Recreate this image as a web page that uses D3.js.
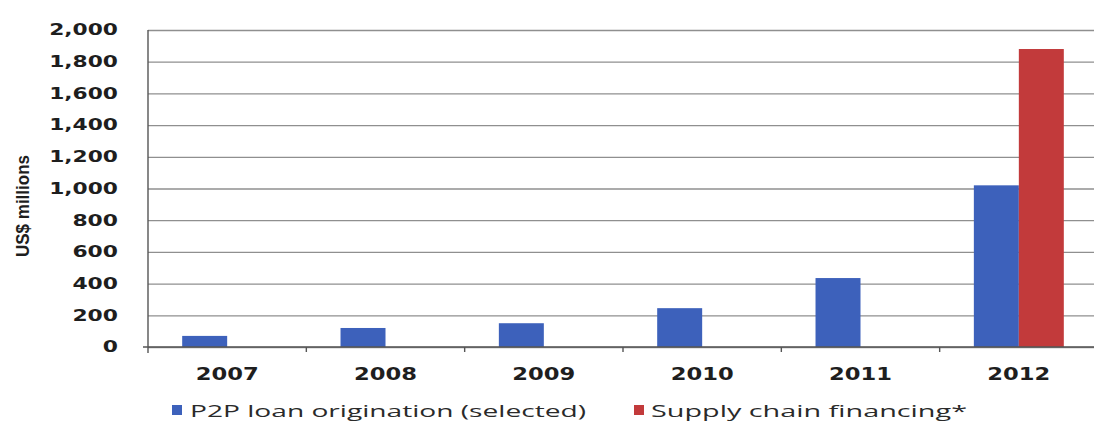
<!DOCTYPE html>
<html>
<head>
<meta charset="utf-8">
<script src="https://cdn.jsdelivr.net/npm/d3@7"></script>
<style>
  html, body { margin: 0; padding: 0; background: #fff; }
  svg { display: block; }
</style>
</head>
<body>
<svg id="chart" width="1094" height="437"></svg>
<script>
// Annual volumes, US$ millions
const years = ["2007", "2008", "2009", "2010", "2011", "2012"];
const p2pLoans = [70, 120, 150, 245, 435, 1020];
const supplyChain = [null, null, null, null, null, 1880];
const seriesNames = ["P2P loan origination (selected)", "Supply chain financing*"];
const seriesColors = ["#3d61bb", "#c23a3b"];
const yTicks = [0, 200, 400, 600, 800, 1000, 1200, 1400, 1600, 1800, 2000];

const svg = d3.select("#chart");
const plot = { left: 148, right: 1098, top: 30, bottom: 347 };

const x = d3.scaleBand().domain(years).range([plot.left, plot.right]).padding(0);
const x1 = d3.scaleBand().domain(seriesNames).range([0, x.bandwidth()]).paddingInner(0).paddingOuter(0.76);
const y = d3.scaleLinear().domain([0, 2000]).range([plot.bottom, plot.top]);

// horizontal gridlines
const grid = svg.append("g").attr("transform", `translate(${plot.left},0)`)
  .call(d3.axisLeft(y).tickValues(yTicks).tickSize(-(plot.right - plot.left)).tickFormat(""));
grid.select(".domain").remove();
grid.selectAll("line").attr("stroke", "#8f8f8f").attr("stroke-width", 1.3);

// bars
const rows = years.map((yr, i) => ({ year: yr, values: [p2pLoans[i], supplyChain[i]] }));
const groups = svg.append("g").selectAll("g").data(rows).join("g")
  .attr("transform", d => `translate(${x(d.year)},0)`);
groups.selectAll("rect")
  .data(d => d.values.map((v, k) => ({ name: seriesNames[k], value: v, k })).filter(e => e.value != null))
  .join("rect")
  .attr("x", e => x1(e.name))
  .attr("width", x1.bandwidth())
  .attr("y", e => y(e.value))
  .attr("height", e => y(0) - y(e.value))
  .attr("fill", e => seriesColors[e.k]);

// y axis with labels
const yAxis = svg.append("g").attr("transform", `translate(${plot.left},0)`)
  .call(d3.axisLeft(y).tickValues(yTicks).tickSize(0).tickPadding(30).tickFormat(d3.format(",")));
yAxis.select(".domain").remove();
yAxis.selectAll("text")
  .attr("font-family", "'DejaVu Sans', Verdana, sans-serif")
  .attr("font-weight", "bold")
  .attr("font-size", 15)
  .attr("fill", "#1e1e1e")
  .each(function () {
    const s = d3.select(this).text();
    const digits = s.replace(/[^0-9]/g, "").length;
    const commas = s.length - digits;
    d3.select(this).attr("textLength", digits * 15.2 + commas * 8).attr("lengthAdjust", "spacingAndGlyphs");
  });

// axis lines
svg.append("line")
  .attr("x1", plot.left).attr("x2", plot.left)
  .attr("y1", y(2000)).attr("y2", y(0) + 6)
  .attr("stroke", "#555").attr("stroke-width", 1.4);
svg.append("line")
  .attr("x1", plot.left - 5).attr("x2", plot.right)
  .attr("y1", y(0)).attr("y2", y(0))
  .attr("stroke", "#555").attr("stroke-width", 1.4);

// category boundary ticks
const edges = years.map(yr => x(yr)).slice(1);
svg.append("g").selectAll("line").data(edges).join("line")
  .attr("x1", d => d).attr("x2", d => d)
  .attr("y1", y(0)).attr("y2", y(0) + 5)
  .attr("stroke", "#555").attr("stroke-width", 1.4);

// x axis labels
const xAxis = svg.append("g").attr("transform", `translate(0,${plot.bottom})`)
  .call(d3.axisBottom(x).tickSize(0).tickPadding(20));
xAxis.select(".domain").remove();
xAxis.selectAll("text")
  .attr("font-family", "'DejaVu Sans', Verdana, sans-serif")
  .attr("font-weight", "bold")
  .attr("font-size", 18)
  .attr("fill", "#1e1e1e")
  .attr("textLength", 63)
  .attr("lengthAdjust", "spacingAndGlyphs");

// y axis title
svg.append("text")
  .attr("transform", "translate(29,206) rotate(-90)")
  .attr("text-anchor", "middle")
  .attr("font-family", "'Liberation Sans Narrow', 'Arial Narrow', 'Liberation Sans', sans-serif")
  .attr("font-weight", "bold")
  .attr("font-size", 19)
  .attr("fill", "#1e1e1e")
  .attr("textLength", 102)
  .attr("lengthAdjust", "spacingAndGlyphs")
  .text("US$ millions");

// legend
const legendItems = [
  { name: seriesNames[0], color: seriesColors[0], sx: 172, tx: 190, len: 396 },
  { name: seriesNames[1], color: seriesColors[1], sx: 634, tx: 651, len: 316 }
];
const legend = svg.append("g");
legend.selectAll("rect").data(legendItems).join("rect")
  .attr("x", d => d.sx).attr("y", 405).attr("width", 10).attr("height", 10)
  .attr("fill", d => d.color);
legend.selectAll("text").data(legendItems).join("text")
  .attr("x", d => d.tx).attr("y", 417)
  .attr("font-family", "'Open Sans', 'Noto Sans', sans-serif")
  .attr("font-size", 17)
  .attr("fill", "#2a2a2a")
  .attr("textLength", d => d.len)
  .attr("lengthAdjust", "spacingAndGlyphs")
  .text(d => d.name);
</script>
</body>
</html>
